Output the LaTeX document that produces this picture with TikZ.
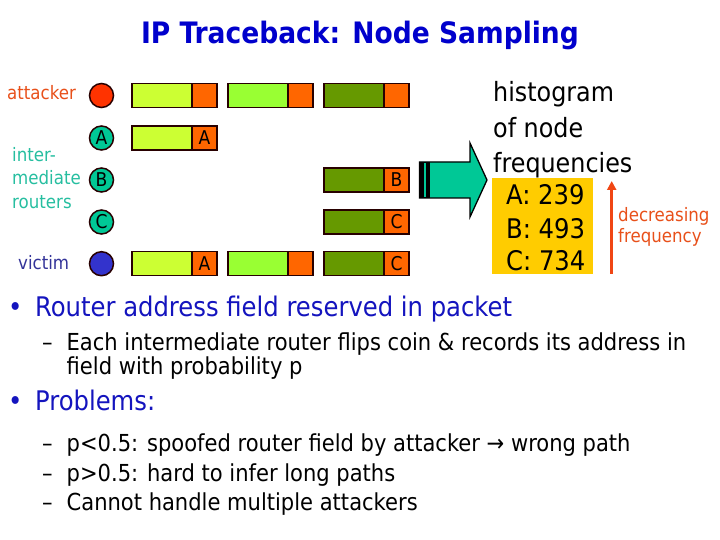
\documentclass[tikz,border=0pt]{standalone}
\usepackage{fontspec}
\setmainfont{DejaVu Sans Condensed}
\usetikzlibrary{arrows.meta}
\definecolor{titleblue}{RGB}{0,0,204}
\definecolor{bulblue}{RGB}{20,20,190}
\definecolor{attcol}{RGB}{232,80,26}
\definecolor{routcol}{RGB}{38,190,160}
\definecolor{viccol}{RGB}{51,51,153}
\definecolor{attfill}{RGB}{255,51,0}
\definecolor{teal}{RGB}{0,200,150}
\definecolor{vicfill}{RGB}{51,51,204}
\definecolor{gA}{RGB}{204,255,51}
\definecolor{gB}{RGB}{153,255,51}
\definecolor{gC}{RGB}{102,153,0}
\definecolor{orng}{RGB}{255,102,0}
\definecolor{dark}{RGB}{40,0,0}
\definecolor{boxyel}{RGB}{255,204,0}
\definecolor{redarr}{RGB}{240,70,20}
\tikzset{
  txt/.style={inner sep=0pt, anchor=base west},
  subtxt/.style={txt, font=\fontsize{23.4}{23.4}\selectfont},
  dot/.style={circle, draw=dark, line width=1.5pt, minimum size=24pt, inner sep=0pt, font=\fontsize{19}{19}\selectfont},
  grn/.style={rectangle, draw=dark, line width=1.5pt, minimum width=60pt, minimum height=24pt, inner sep=0pt, fill=#1},
  org/.style={rectangle, draw=dark, line width=1.5pt, minimum width=25pt, minimum height=24pt, inner sep=0pt, fill=orng, font=\fontsize{19}{19}\selectfont},
}
\begin{document}
\begin{tikzpicture}[x=1pt,y=-1pt]
\useasboundingbox (0,0) rectangle (720,540);
% title
\node[inner sep=0pt, anchor=base, text=titleblue, font=\fontsize{29.5}{29.5}\selectfont\bfseries] (title) at (360,44) {IP Traceback: Node Sampling};
% left labels
\node[txt, text=attcol, font=\fontsize{18.5}{18.5}\selectfont] (latt) at (7,100) {attacker};
\node[txt, text=routcol, font=\fontsize{18.5}{18.5}\selectfont] (lr1) at (12,161.5) {inter-};
\node[txt, text=routcol, font=\fontsize{18.5}{18.5}\selectfont] (lr2) at (12,185) {mediate};
\node[txt, text=routcol, font=\fontsize{18.5}{18.5}\selectfont] (lr3) at (12,208.5) {routers};
\node[txt, text=viccol, font=\fontsize{18.5}{18.5}\selectfont] (lvic) at (18,269.5) {victim};
% circles
\node[dot, fill=attfill] (att) at (101.5,95.5) {};
\node[dot, fill=teal] (ra) at (101.5,138) {A};
\node[dot, fill=teal] (rb) at (101.5,180) {B};
\node[dot, fill=teal] (rc) at (101.5,222) {C};
\node[dot, fill=vicfill] (vic) at (101.5,263.7) {};
% packets row attacker
\node[grn=gA] (p1g) at (162,95.5) {};
\node[org] (p1o) at (204.5,95.5) {};
\node[grn=gB] (p2g) at (258,95.5) {};
\node[org] (p2o) at (300.5,95.5) {};
\node[grn=gC] (p3g) at (354,95.5) {};
\node[org] (p3o) at (396.5,95.5) {};
% row A
\node[grn=gA] (pag) at (162,138) {};
\node[org] (pao) at (204.5,138) {A};
% row B
\node[grn=gC] (pbg) at (354,180) {};
\node[org] (pbo) at (396.5,180) {B};
% row C
\node[grn=gC] (pcg) at (354,222) {};
\node[org] (pco) at (396.5,222) {C};
% victim row
\node[grn=gA] (v1g) at (162,263.7) {};
\node[org] (v1o) at (204.5,263.7) {A};
\node[grn=gB] (v2g) at (258,263.7) {};
\node[org] (v2o) at (300.5,263.7) {};
\node[grn=gC] (v3g) at (354,263.7) {};
\node[org] (v3o) at (396.5,263.7) {C};
% big arrow
\draw[fill=teal, draw=black, line width=1.3pt, line join=miter]
  (419.5,162) -- (470,162) -- (470,143) -- (487,180) -- (470,217) -- (470,198) -- (419.5,198) -- cycle;
\fill[black] (419.5,162) rectangle (430,198);
\fill[teal] (424,163) rectangle (426,197);
% histogram
\node[txt, font=\fontsize{26.5}{26.5}\selectfont] (h1) at (493,101.5) {histogram};
\node[txt, font=\fontsize{26.5}{26.5}\selectfont] (h2) at (493,137.5) {of node};
\node[txt, font=\fontsize{26.5}{26.5}\selectfont] (h3) at (493,173) {frequencies};
\fill[boxyel] (492,178.5) rectangle (593,273.5);
\node[txt, font=\fontsize{27}{27}\selectfont] (hA) at (506,205) {A: 239};
\node[txt, font=\fontsize{27}{27}\selectfont] (hB) at (506,238.5) {B: 493};
\node[txt, font=\fontsize{27}{27}\selectfont] (hC) at (506,270.5) {C: 734};
\coordinate (rb0) at (611.7,273.5);
\coordinate (rt0) at (611.7,181);
\draw[redarr, line width=2.5pt, -{Triangle[length=9pt,width=9pt]}] (rb0) -- (rt0);
\node[txt, text=attcol, font=\fontsize{18.5}{18.5}\selectfont] (dec1) at (618,221.5) {decreasing};
\node[txt, text=attcol, font=\fontsize{18.5}{18.5}\selectfont] (dec2) at (618,243) {frequency};
% bullets
\node[txt, text=bulblue, font=\fontsize{27}{27}\selectfont] (b1d) at (8,316.5) {•};
\node[txt, text=bulblue, font=\fontsize{27}{27}\selectfont] (b1) at (35,316.5) {Router address field reserved in packet};
\node[subtxt] (s1d) at (42,350) {–};
\node[subtxt] (s1) at (66.5,350) {Each intermediate router flips coin \& records its address in};
\node[subtxt] (s1b) at (66.5,374.5) {field with probability p};
\node[txt, text=bulblue, font=\fontsize{27}{27}\selectfont] (b2d) at (8,410) {•};
\node[txt, text=bulblue, font=\fontsize{27}{27}\selectfont] (b2) at (35,410) {Problems:};
\node[subtxt] (s2d) at (42,451.5) {–};
\node[subtxt] (s2) at (66.5,451.5) {p<0.5: spoofed router field by attacker → wrong path};
\node[subtxt] (s3d) at (42,481.5) {–};
\node[subtxt] (s3) at (66.5,481.5) {p>0.5: hard to infer long paths};
\node[subtxt] (s4d) at (42,510) {–};
\node[subtxt] (s4) at (66.5,510) {Cannot handle multiple attackers};
\end{tikzpicture}
\end{document}
